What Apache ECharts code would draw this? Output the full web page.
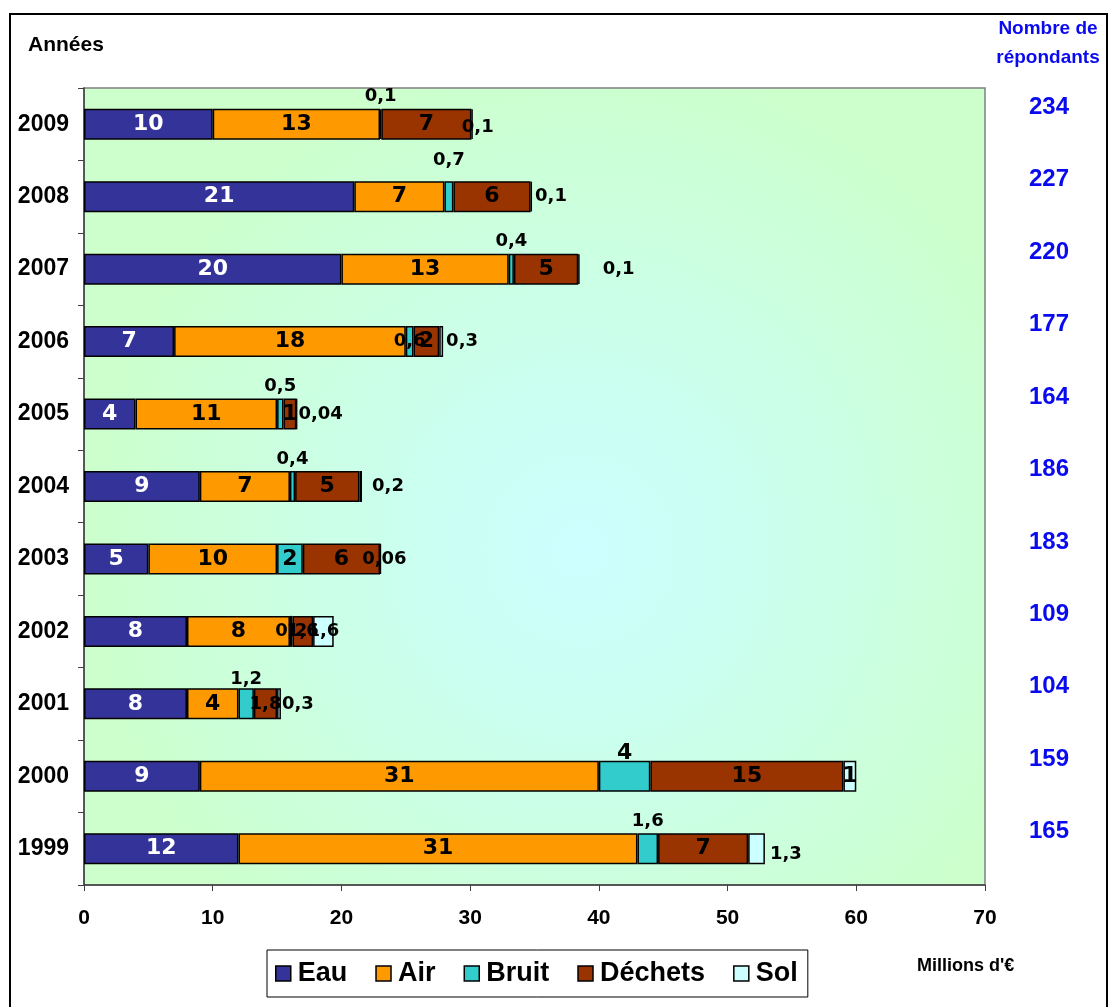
<!DOCTYPE html>
<html>
<head>
<meta charset="utf-8">
<script src="https://cdn.jsdelivr.net/npm/echarts@6/dist/echarts.min.js"></script>
<style>
  html, body { margin: 0; padding: 0; background: #fff; }
  #chart { width: 1109px; height: 1007px; }
</style>
</head>
<body>
<div id="chart"></div>
<script>
// Dépenses environnementales par domaine (millions d'€), 1999 à 2009
const years = ['1999', '2000', '2001', '2002', '2003', '2004', '2005', '2006', '2007', '2008', '2009'];
const eau = [12, 9, 8, 8, 5, 9, 4, 7, 20, 21, 10];
const air = [31, 31, 4, 8, 10, 7, 11, 18, 13, 7, 13];
const bruit = [1.6, 4, 1.2, 0.2, 2, 0.4, 0.5, 0.6, 0.4, 0.7, 0.1];
const dechets = [7, 15, 1.8, 1.6, 6, 5, 1, 2, 5, 6, 7];
const sol = [1.3, 1, 0.3, 1.6, 0.06, 0.2, 0.04, 0.3, 0.1, 0.1, 0.1];
const repondants = [165, 159, 104, 109, 183, 186, 164, 177, 220, 227, 234];
const xTicks = [0, 10, 20, 30, 40, 50, 60, 70];

const colors = {
  Eau: '#333399',
  Air: '#FF9900',
  Bruit: '#33CCCC',
  'Déchets': '#993300',
  Sol: '#CCFFFF'
};

const labelFont = 'DejaVu Sans';
const axisFont = 'Liberation Sans, Arial, sans-serif';

function fr(v) { return String(v).replace('.', ','); }
function sizeFor(v) { return Number.isInteger(v) ? 22 : 18; }

// Étiquettes centrées dans chaque segment
function plainData(values, color) {
  return values.map(v => ({
    value: v,
    label: { show: true, position: 'inside', color: color, fontSize: sizeFor(v) }
  }));
}

// Bruit : étiquette au-dessus de la barre sauf quand le segment est assez large
const bruitInside = new Set([3, 4, 7]);
const bruitDistance = { 1: -3, 2: 0, 9: 12 };
const bruitData = bruit.map((v, i) => ({
  value: v,
  label: bruitInside.has(i)
    ? { show: true, position: 'inside', fontSize: sizeFor(v) }
    : { show: true, position: 'top', distance: bruitDistance[i] !== undefined ? bruitDistance[i] : 3, fontSize: sizeFor(v) }
}));

// Sol : étiquette à droite de la barre, décalée selon la place disponible
const solPlacement = [
  { position: 'right', offset: [0, 6] },
  { position: 'inside', offset: [0, 0] },
  { position: 'right', offset: [-4, 0] },
  { position: 'inside', offset: [0, 0] },
  { position: 'right', offset: [-24, 0] },
  { position: 'right', offset: [5, 0] },
  { position: 'right', offset: [-4, 0] },
  { position: 'right', offset: [-2, 0] },
  { position: 'right', offset: [18, 0] },
  { position: 'right', offset: [-2, 0] },
  { position: 'right', offset: [-16, 3] }
];
const solData = sol.map((v, i) => ({
  value: v,
  label: Object.assign({ show: true, fontSize: sizeFor(v) }, solPlacement[i])
}));

function barSeries(name, data) {
  return {
    name: name,
    type: 'bar',
    stack: 'total',
    barWidth: 31,
    data: data,
    itemStyle: { color: colors[name], borderColor: '#000', borderWidth: 1.5 },
    label: {
      show: true,
      formatter: p => fr(p.value),
      fontFamily: labelFont,
      fontWeight: 'bold',
      color: '#000'
    },
    emphasis: { disabled: true },
    animation: false
  };
}

const chart = echarts.init(document.getElementById('chart'), null, { renderer: 'canvas' });

chart.setOption({
  backgroundColor: '#ffffff',
  animation: false,
  graphic: [
    {
      type: 'rect',
      shape: { x: 10, y: 14, width: 1097, height: 1000 },
      style: { fill: null, stroke: '#000', lineWidth: 2 },
      z: -10
    },
    {
      type: 'text',
      left: 28, top: 35,
      style: { text: 'Années', font: 'bold 21px ' + axisFont, fill: '#000' }
    },
    {
      type: 'text',
      x: 1048, y: 14,
      style: {
        text: 'Nombre de\nrépondants',
        font: 'bold 19px ' + axisFont,
        lineHeight: 29,
        fill: '#0A0AF0',
        align: 'center'
      }
    },
    {
      type: 'text',
      left: 917, top: 957,
      style: { text: "Millions d'€", font: 'bold 18px ' + axisFont, fill: '#000' }
    }
  ],
  legend: {
    left: 267,
    top: 950,
    padding: [10, 10, 10, 8],
    itemGap: 28,
    itemWidth: 15,
    itemHeight: 15,
    backgroundColor: '#fff',
    borderColor: '#000',
    borderWidth: 1,
    borderRadius: 0,
    icon: 'rect',
    itemStyle: { borderColor: '#000', borderWidth: 1.5 },
    textStyle: { fontFamily: axisFont, fontWeight: 'bold', fontSize: 27, color: '#000', padding: [0, 0, 0, 2] },
    data: ['Eau', 'Air', 'Bruit', 'Déchets', 'Sol']
  },
  grid: {
    left: 84,
    right: 124,
    top: 88,
    bottom: 122,
    containLabel: false,
    outerBoundsMode: 'none',
    show: true,
    borderColor: '#808080',
    borderWidth: 1.5,
    backgroundColor: {
      type: 'radial',
      x: 0.55, y: 0.58, r: 0.62,
      colorStops: [
        { offset: 0, color: '#CCFFFF' },
        { offset: 0.35, color: '#CBFFF0' },
        { offset: 1, color: '#CCFFCC' }
      ]
    }
  },
  xAxis: {
    type: 'value',
    min: xTicks[0],
    max: xTicks[xTicks.length - 1],
    interval: xTicks[1] - xTicks[0],
    axisLine: { show: true, lineStyle: { color: '#404040', width: 1.5 } },
    axisTick: { show: true, length: 6, lineStyle: { color: '#404040' } },
    splitLine: { show: false },
    axisLabel: { fontFamily: axisFont, fontWeight: 'bold', fontSize: 21, color: '#000', margin: 23 }
  },
  yAxis: [
    {
      type: 'category',
      data: years,
      axisLine: { show: true, lineStyle: { color: '#404040', width: 1.5 } },
      axisTick: { show: true, length: 6, lineStyle: { color: '#404040' } },
      axisLabel: { fontFamily: axisFont, fontWeight: 'bold', fontSize: 23, color: '#000', margin: 15 }
    },
    {
      type: 'category',
      position: 'right',
      data: repondants.map(String),
      axisLine: { show: false },
      axisTick: { show: false },
      axisLabel: {
        fontFamily: axisFont, fontWeight: 'bold', fontSize: 24, color: '#0A0AF0',
        align: 'center', margin: 64, lineHeight: 34,
        // une ligne vide en dessous remonte le nombre au-dessus de l'axe de la barre
        formatter: v => v + '\n '
      }
    }
  ],
  series: [
    barSeries('Eau', plainData(eau, '#fff')),
    barSeries('Air', plainData(air, '#000')),
    barSeries('Bruit', bruitData),
    barSeries('Déchets', plainData(dechets, '#000')),
    barSeries('Sol', solData)
  ]
});
</script>
</body>
</html>
